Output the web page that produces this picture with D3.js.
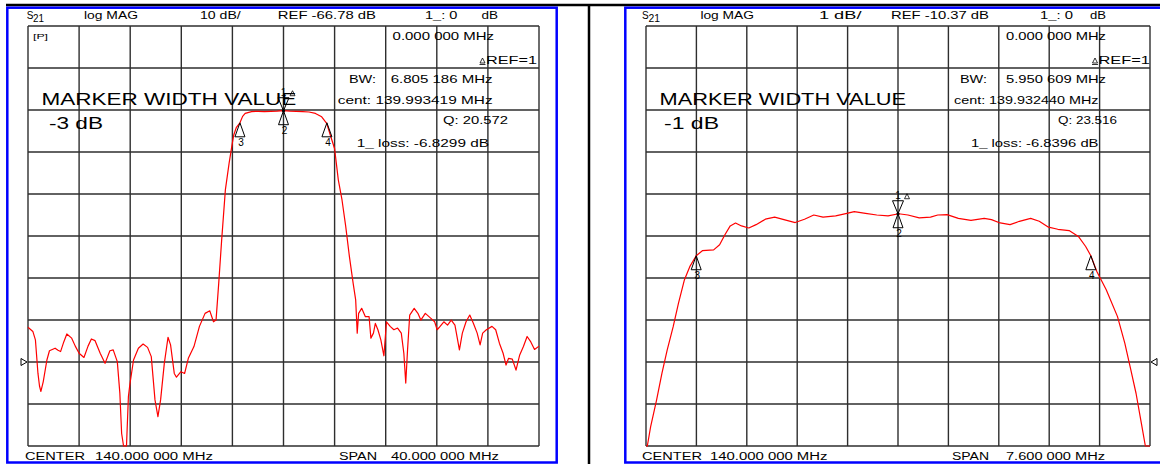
<!DOCTYPE html>
<html><head><meta charset="utf-8">
<script src="https://cdn.jsdelivr.net/npm/d3@7"></script>
<style>
body{margin:0;background:#fff;}
svg{display:block;}
text{font-family:"Liberation Sans",Arial,sans-serif;fill:#000;}
</style>
</head><body>
<svg id="c" width="1160" height="464"></svg>
<script>
// ---------------- DATA ----------------
const leftFreq = [120.00,120.38,120.58,120.78,120.90,121.01,121.19,121.48,121.68,121.90,122.12,122.35,122.55,122.80,123.04,123.42,123.70,124.00,124.38,124.70,124.96,125.25,125.65,126.03,126.41,126.67,126.99,127.19,127.33,127.48,127.71,127.86,127.97,128.26,128.64,129.01,129.36,129.65,129.94,130.17,130.38,130.67,130.96,131.16,131.45,131.62,131.97,132.26,132.55,132.99,133.42,133.86,134.23,134.52,134.72,134.93,135.16,135.45,135.74,135.95,136.10,136.30,136.59,136.80,137.00,137.50,138.00,138.50,139.00,139.50,140.00,140.50,141.00,141.50,142.00,142.50,142.99,143.38,143.70,144.00,144.29,144.58,144.87,145.16,145.45,145.65,145.77,145.88,146.12,146.41,146.70,146.84,147.04,147.19,147.39,147.62,147.86,148.06,148.35,148.64,148.93,149.22,149.42,149.57,149.71,149.88,150.23,150.52,150.75,151.10,151.54,151.83,152.03,152.26,152.55,152.84,153.13,153.42,153.77,154.00,154.29,154.58,154.87,155.16,155.39,155.59,155.88,156.32,156.61,156.90,157.19,157.42,157.62,157.91,158.20,158.49,158.78,159.07,159.36,159.65,160.00];
const leftDb = [-58.5,-59.5,-61.5,-69.5,-72.5,-73.8,-71.5,-66.3,-64.1,-63.8,-63.5,-64.0,-64.3,-62.0,-60.1,-61.1,-63.0,-64.7,-65.7,-63.0,-61.3,-61.7,-64.7,-67.1,-64.1,-63.9,-66.7,-74.2,-83.8,-86.9,-86.9,-75.0,-72.2,-66.3,-63.5,-62.5,-63.3,-65.5,-75.8,-79.8,-75.8,-67.1,-60.9,-62.7,-69.5,-70.4,-69.1,-69.5,-65.9,-63.1,-58.3,-55.2,-54.6,-57.2,-56.8,-48.0,-37.7,-25.8,-19.5,-15.5,-12.8,-11.0,-9.83,-8.3,-7.6,-7.15,-7.1,-7.15,-7.1,-7.05,-6.95,-7.05,-7.1,-7.15,-7.25,-7.6,-8.4,-9.95,-13.1,-16.0,-23.4,-28.2,-34.5,-41.7,-48.0,-52.0,-59.9,-55.2,-54.0,-56.0,-56.0,-61.1,-59.9,-57.6,-59.1,-61.5,-65.3,-57.2,-58.3,-59.1,-58.7,-59.9,-64.7,-71.8,-63.9,-55.6,-54.0,-55.2,-56.8,-55.2,-56.4,-57.2,-59.1,-58.3,-57.2,-58.0,-56.8,-58.0,-63.9,-59.9,-57.2,-55.6,-57.6,-59.9,-62.7,-59.9,-59.1,-58.3,-59.1,-62.3,-64.7,-67.5,-65.9,-66.1,-68.7,-65.1,-63.1,-60.7,-62.0,-63.8,-63.0];

const rightFreq = [136.20,136.22,136.27,136.36,136.44,136.52,136.61,136.69,136.78,136.86,136.957,137.05,137.22,137.31,137.39,137.47,137.55,137.64,137.75,137.86,138.00,138.14,138.28,138.45,138.59,138.73,138.87,139.06,139.23,139.34,139.51,139.68,139.85,140.01,140.15,140.32,140.49,140.60,140.74,140.91,141.10,141.30,141.41,141.52,141.69,141.83,142.00,142.13,142.27,142.41,142.58,142.72,142.83,142.908,143.00,143.14,143.31,143.42,143.50,143.59,143.67,143.73,143.80];
const rightDb = [-12.6,-12.37,-11.91,-11.27,-10.64,-10.08,-9.53,-8.97,-8.41,-8.10,-7.84,-7.72,-7.70,-7.58,-7.34,-7.13,-7.06,-7.13,-7.18,-7.10,-6.97,-6.92,-6.98,-7.05,-6.97,-6.87,-6.92,-6.89,-6.83,-6.79,-6.83,-6.87,-6.89,-6.84,-6.87,-6.94,-6.92,-6.87,-6.86,-6.95,-7.00,-6.95,-6.98,-7.05,-7.10,-7.02,-6.95,-7.02,-7.16,-7.21,-7.24,-7.38,-7.62,-7.84,-8.22,-8.65,-9.29,-9.92,-10.48,-11.12,-11.83,-12.37,-12.6];

const markerIds = ["1","2","3","4"];
const leftMarkerFreq = [140.0,140.0,136.59,143.40];
const leftMarkerDb = [-6.95,-6.95,-9.83,-9.83];
const rightMarkerFreq = [140.0,140.0,136.957,142.908];
const rightMarkerDb = [-6.84,-6.84,-7.84,-7.84];

const leftHeader = ["log MAG","10 dB/","REF -66.78 dB","1_: 0","dB"];
const rightHeader = ["log MAG","1 dB/","REF -10.37 dB","1_: 0","dB"];
const leftInfo = ["0.000 000 MHz","REF=1","BW:","6.805 186 MHz","cent: 139.993419 MHz","Q: 20.572","1_ loss: -6.8299 dB"];
const rightInfo = ["0.000 000 MHz","REF=1","BW:","5.950 609 MHz","cent: 139.932440 MHz","Q: 23.516","1_ loss: -6.8396 dB"];
const leftTitle = ["MARKER WIDTH VALUE","-3 dB"];
const rightTitle = ["MARKER WIDTH VALUE","-1 dB"];
const leftFooter = ["CENTER","140.000 000 MHz","SPAN","40.000 000 MHz"];
const rightFooter = ["CENTER","140.000 000 MHz","SPAN","7.600 000 MHz"];

// frequency span [start, stop] MHz, reference level, dB per division, reference line (divisions from top)
const leftScaleInfo = {start:120, stop:160, ref:-66.78, perDiv:10, refLine:8};
const rightScaleInfo = {start:136.2, stop:143.8, ref:-10.37, perDiv:1, refLine:8};

// ---------------- LAYOUT ----------------
const svg = d3.select("#c");
const GRID = "#2e2e2e";

svg.append("line").attr("x1",6).attr("x2",1160).attr("y1",5).attr("y2",5).attr("stroke","#000").attr("stroke-width",2.5);
svg.append("line").attr("x1",589).attr("x2",589).attr("y1",4).attr("y2",464).attr("stroke","#000").attr("stroke-width",2.5);
svg.append("rect").attr("x",7.3).attr("y",7.7).attr("width",549.4).attr("height",454.8).attr("fill","none").attr("stroke","#0000ff").attr("stroke-width",2.5);
svg.append("rect").attr("x",625.3).attr("y",7.7).attr("width",540).attr("height",454.8).attr("fill","none").attr("stroke","#0000ff").attr("stroke-width",2.5);

function txt(g, s, x0, x1, y, fs) {
  g.append("text").attr("x",x0).attr("y",y).attr("font-size",fs)
    .attr("textLength",x1-x0).attr("lengthAdjust","spacingAndGlyphs").text(s);
}

const panelLayouts = [
  { sc:leftScaleInfo, freq:leftFreq, db:leftDb, mf:leftMarkerFreq, mdb:leftMarkerDb,
    gx:[28,539], gy:[26,446], refSide:"left",
    S:[26.7,33,44], header:leftHeader, headerPos:[[84,138],[200,240.7],[277.8,376],[425,457.4],[481.5,498]],
    info:leftInfo, infoPos:[[392.6,494,39.5],[486,537,64],[349,376,83],[390.7,492.6,83],[337.8,492.6,104],[443,508,124],[356.7,489,147]],
    title:leftTitle, titlePos:[[41.5,296.3,105,17],[49,103,129,17]],
    footer:leftFooter, footerPos:[[25,85],[95,213],[339,377],[391,499]], icon:true },
  { sc:rightScaleInfo, freq:rightFreq, db:rightDb, mf:rightMarkerFreq, mdb:rightMarkerDb,
    gx:[646,1150], gy:[26,446], refSide:"right",
    S:[642,648.5,660], header:rightHeader, headerPos:[[700.4,754],[818.9,861.5],[891,989],[1040,1073],[1090,1106]],
    info:rightInfo, infoPos:[[1006,1106,39.5],[1098.5,1150,64],[960,987,83],[1006,1106,83],[954,1098.5,104],[1058,1117,124],[971,1098.5,147]],
    title:rightTitle, titlePos:[[659.6,906,105,17],[664,719,129,17]],
    footer:rightFooter, footerPos:[[642,702],[710,827.4],[952,989],[1006,1105]], icon:false }
];

panelLayouts.forEach(p => {
  const g = svg.append("g");
  const sc = p.sc;
  const top = sc.ref + sc.refLine*sc.perDiv;
  const bottom = top - 10*sc.perDiv;
  const x = d3.scaleLinear().domain([sc.start, sc.stop]).range(p.gx);
  const y = d3.scaleLinear().domain([bottom, top]).range([p.gy[1], p.gy[0]]).clamp(true);

  const xt = d3.range(11).map(i => sc.start + i*(sc.stop-sc.start)/10);
  const yt = d3.range(11).map(i => bottom + i*sc.perDiv);
  g.selectAll(".vg").data(xt).enter().append("line")
    .attr("x1",d=>x(d)).attr("x2",d=>x(d)).attr("y1",p.gy[0]).attr("y2",p.gy[1])
    .attr("stroke",GRID).attr("stroke-width",1.4);
  g.selectAll(".hg").data(yt).enter().append("line")
    .attr("y1",d=>y(d)).attr("y2",d=>y(d)).attr("x1",p.gx[0]).attr("x2",p.gx[1])
    .attr("stroke",GRID).attr("stroke-width",1.4);

  const ry = y(sc.ref);
  if (p.refSide === "left") {
    const ax = x(sc.start);
    g.append("path").attr("d",`M${ax-7},${ry-3.5}L${ax-1},${ry}L${ax-7},${ry+3.5}Z`).attr("fill","#fff").attr("stroke","#000").attr("stroke-width",1);
  } else {
    const ax = x(sc.stop);
    g.append("path").attr("d",`M${ax+7},${ry-3.5}L${ax+1},${ry}L${ax+7},${ry+3.5}Z`).attr("fill","#fff").attr("stroke","#000").attr("stroke-width",1);
  }

  const pts = p.freq.map((f,i)=>[f,p.db[i]]);
  g.append("path").datum(pts)
    .attr("d", d3.line().x(d=>x(d[0])).y(d=>y(d[1])))
    .attr("fill","none").attr("stroke","#ff0000").attr("stroke-width",1.2).attr("stroke-linejoin","round");

  markerIds.forEach((id,i)=>{
    const mx = x(p.mf[i]), my = y(p.mdb[i]);
    if (id === "1") {
      g.append("path").attr("d",`M${mx},${my}L${mx-5.5},${my-13}L${mx+5.5},${my-13}Z`).attr("fill","none").attr("stroke","#000").attr("stroke-width",1);
      g.append("text").attr("x",mx).attr("y",my-15).attr("font-size",10).attr("text-anchor","middle").text(id);
      const tx = mx+9, ty = my-17;
      g.append("path").attr("d",`M${tx-2.5},${ty+2}L${tx},${ty-3}L${tx+2.5},${ty+2}Z`).attr("fill","none").attr("stroke","#000").attr("stroke-width",0.8);
      g.append("circle").attr("cx",mx).attr("cy",my).attr("r",1.6).attr("fill","#000");
    } else {
      g.append("path").attr("d",`M${mx},${my}L${mx-5},${my+14}L${mx+5},${my+14}Z`).attr("fill","none").attr("stroke","#000").attr("stroke-width",1);
      g.append("text").attr("x",mx+1).attr("y",my+23).attr("font-size",10).attr("text-anchor","middle").text(id);
    }
  });

  g.append("text").attr("x",p.S[0]).attr("y",18.5).attr("font-size",10).text("S");
  txt(g, "21", p.S[1], p.S[2], 22, 10.5);
  p.header.forEach((s,i)=> txt(g, s, p.headerPos[i][0], p.headerPos[i][1], 19, 10.5));

  p.info.forEach((s,i)=> txt(g, s, p.infoPos[i][0], p.infoPos[i][1], p.infoPos[i][2], 10.5));
  const dx = p.infoPos[1][0]-3.5, dy = p.infoPos[1][2];
  g.append("path").attr("d",`M${dx-2.5},${dy-1}L${dx},${dy-6}L${dx+2.5},${dy-1}Z M${dx-3},${dy+0.5}L${dx+3},${dy+0.5}`).attr("fill","none").attr("stroke","#000").attr("stroke-width",0.8);

  p.title.forEach((s,i)=> txt(g, s, p.titlePos[i][0], p.titlePos[i][1], p.titlePos[i][2], p.titlePos[i][3]));

  p.footer.forEach((s,i)=> txt(g, s, p.footerPos[i][0], p.footerPos[i][1], 460, 10));

  if (p.icon) {
    txt(g, "[P]", 33, 48, 39, 8);
  }
});
</script>
</body></html>
